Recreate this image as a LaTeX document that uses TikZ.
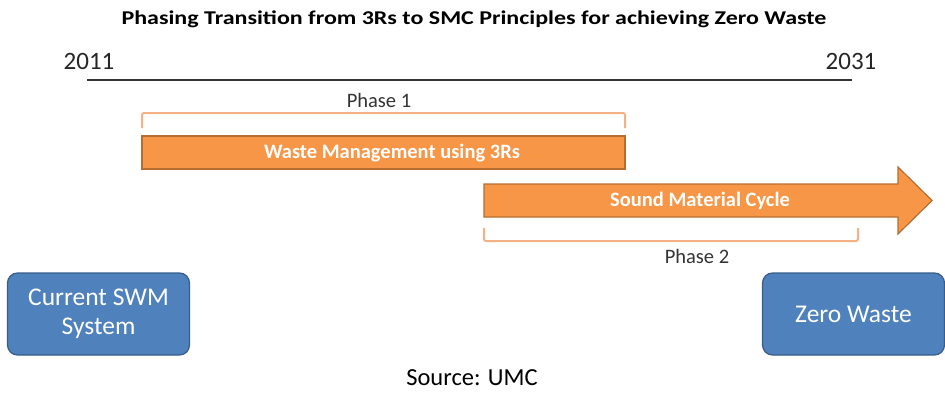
\documentclass[tikz,border=0pt]{standalone}
\usepackage{fontspec}
\setmainfont{Carlito}
\usetikzlibrary{shapes.arrows}
\definecolor{barfill}{HTML}{F79646}
\definecolor{bardraw}{HTML}{B66D31}
\definecolor{brack}{HTML}{F4B183}
\definecolor{boxfill}{HTML}{4F81BD}
\definecolor{boxdraw}{HTML}{385D8A}
\tikzset{
  bar/.style={draw=bardraw, line width=1.2pt, fill=barfill},
  bartext/.style={text=white, font=\fontsize{20.5}{24}\selectfont\bfseries},
  bracket/.style={draw=brack, line width=2pt},
  phaselabel/.style={text=black!80, font=\fontsize{20.5}{24}\selectfont},
  bluebox/.style={draw=boxdraw, line width=1.2pt, fill=boxfill, rounded corners=10pt, minimum width=182pt, minimum height=82pt, text=white, font=\fontsize{25.5}{29}\selectfont, align=center, inner sep=0pt},
  year/.style={font=\fontsize{25}{30}\selectfont, text=black!85}
}
\begin{document}
\begin{tikzpicture}[x=1pt,y=-1pt]
\useasboundingbox (0,0) rectangle (945,394);
% title
\node[font=\fontsize{19.5}{24}\selectfont\bfseries, xscale=1.23] (title) at (474,19) {Phasing Transition from 3Rs to SMC Principles for achieving Zero Waste};
% timeline
\node[year] (y1) at (89,61) {2011};
\node[year] (y2) at (851,61) {2031};
\coordinate (tl1) at (87,80);
\coordinate (tl2) at (852,80);
\draw[line width=1.8pt, black!80] (tl1) -- (tl2);
% phase 1
\node[phaselabel] (p1) at (379,100) {Phase 1};
\coordinate (b1a) at (142,128);
\coordinate (b1b) at (625,128);
\draw[bracket, rounded corners=2pt] (b1a) -- ++(0,-15) -- (625,113) -- (b1b);
\node[bar, minimum width=483pt, minimum height=33pt, inner sep=0pt] (bar1) at (383.5,152.5) {};
\node[bartext] at (392,153) {Waste Management using 3Rs};
% arrow
\draw[bar] (484,184) -- (898,184) -- (898,167) -- (932,200.5) -- (898,234) -- (898,217) -- (484,217) -- cycle;
\node[bartext] (smc) at (700,200.5) {Sound Material Cycle};
% phase 2
\coordinate (b2a) at (484,228);
\coordinate (b2b) at (858,228);
\draw[bracket, rounded corners=2pt] (b2a) -- ++(0,13) -- (858,241) -- (b2b);
\node[phaselabel] (p2) at (697,256) {Phase 2};
% boxes
\node[bluebox] (cur) at (98.5,314) {Current SWM\\System};
\node[bluebox] (zero) at (853.5,314) {Zero Waste};
% source
\node[font=\fontsize{24.5}{28}\selectfont] (src) at (472,378) {Source: UMC};
\end{tikzpicture}
\end{document}
